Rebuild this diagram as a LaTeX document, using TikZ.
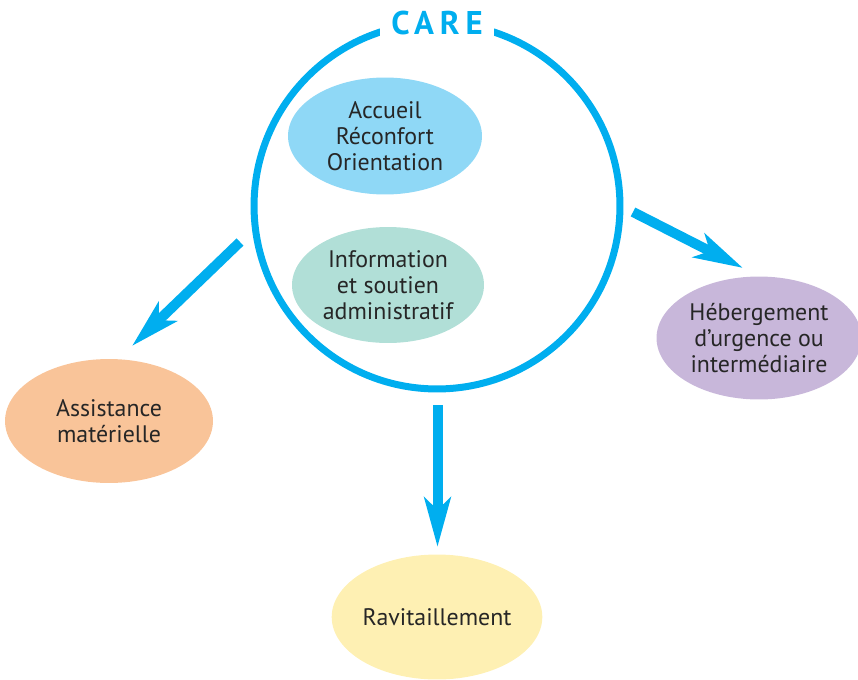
\documentclass[tikz,border=0pt]{standalone}
\usepackage{fontspec}
\setmainfont{PT Sans}
\usetikzlibrary{positioning,shapes.geometric,arrows.meta}
\definecolor{careblue}{HTML}{00AEEF}
\definecolor{accueilcol}{HTML}{8FD8F6}
\definecolor{infocol}{HTML}{B1DFD7}
\definecolor{assistcol}{HTML}{F9C499}
\definecolor{ravitcol}{HTML}{FEF0B3}
\definecolor{hebergcol}{HTML}{C8B7DA}
\tikzstyle{bubble} = [ellipse, align=center, inner sep=0pt, text=black!85, font=\fontsize{13.6}{14.8}\selectfont]
\tikzstyle{flow} = [draw=careblue, line width=0.2cm, -{Stealth[length=0.98cm, width=0.52cm, inset=0.24cm]}]

\begin{document}
\begin{tikzpicture}[x=0.02cm,y=-0.02cm]
        \useasboundingbox (0,0) rectangle (858,679);
        %Circle
        \node [draw=careblue, line width=0.14cm, circle, minimum size=7.32cm, inner sep=0pt] (care) at (437,206) {};
        \node [fill=white, text=careblue, minimum width=2.3cm, minimum height=0.9cm, inner sep=0pt,
            font=\fontsize{18.7}{20}\selectfont\bfseries\addfontfeatures{LetterSpace=18}] (title) at (437,23) {CARE};
        %Bubbles
        \node [bubble, fill=accueilcol, minimum width=3.88cm, minimum height=2.34cm] (accueil) at (385,136) {Accueil\\Réconfort\\Orientation};
        \node [bubble, fill=infocol, minimum width=3.84cm, minimum height=2.32cm] (info) at (388,285) {Information\\et soutien\\administratif};
        \node [bubble, fill=assistcol, minimum width=4.16cm, minimum height=2.48cm] (assist) at (109,421) {Assistance\\matérielle};
        \node [bubble, fill=ravitcol, minimum width=4.18cm, minimum height=2.5cm] (ravit) at (437,617) {Ravitaillement};
        \node [bubble, fill=hebergcol, minimum width=4.1cm, minimum height=2.46cm] (heberg) at (759,338) {Hébergement\\d’urgence ou\\intermédiaire};
        %Arrows
        \coordinate (from1) at (240,242);
        \coordinate (to1) at (132,346);
        \coordinate (from2) at (437.5,405);
        \coordinate (to2) at (437.5,547);
        \coordinate (from3) at (633,212);
        \coordinate (to3) at (743,268);
        \draw[flow] (from1) -- (to1);
        \draw[flow] (from2) -- (to2);
        \draw[flow] (from3) -- (to3);
\end{tikzpicture}
\end{document}
